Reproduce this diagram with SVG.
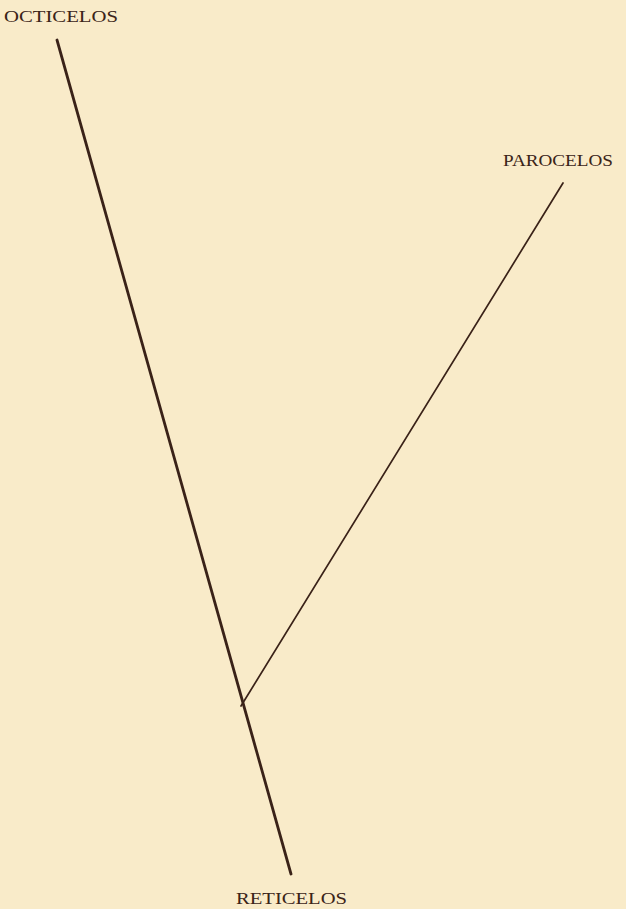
<svg xmlns="http://www.w3.org/2000/svg" width="626" height="909" viewBox="0 0 626 909">
<style>
.lbl{font-family:"Liberation Serif",serif;font-size:17.5px;fill:#3b2418}
.ln{stroke:#3a2218;fill:none;stroke-linecap:round}
</style>
<rect width="626" height="909" fill="#f9ebc9"/>
<g id="connectors">
<line class="ln" x1="57" y1="40" x2="291" y2="874" stroke-width="2.8"/>
<line class="ln" x1="241" y1="706" x2="563" y2="183" stroke-width="1.7"/>
</g>
<g id="octicelos"><text class="lbl" x="4" y="22" textLength="114" lengthAdjust="spacingAndGlyphs">OCTICELOS</text></g>
<g id="parocelos"><text class="lbl" x="503" y="166" textLength="110" lengthAdjust="spacingAndGlyphs">PAROCELOS</text></g>
<g id="reticelos"><text class="lbl" x="236" y="904" textLength="111" lengthAdjust="spacingAndGlyphs">RETICELOS</text></g>
</svg>
